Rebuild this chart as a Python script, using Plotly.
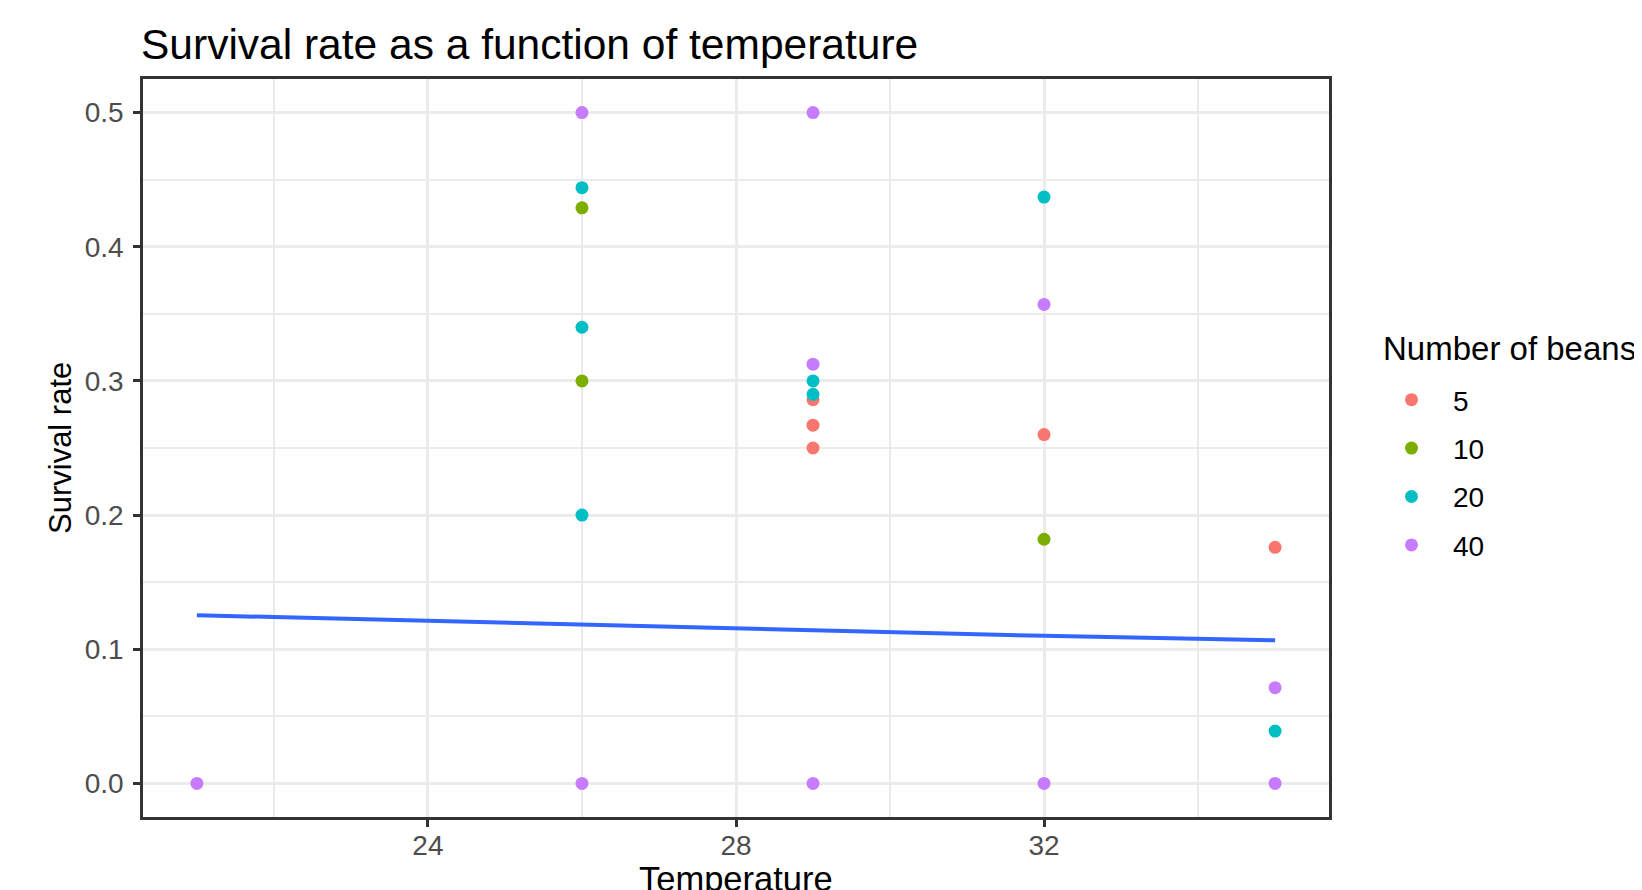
import plotly.graph_objects as go

# ---- data ----
bean_groups = ["5", "10", "20", "40"]
group_colors = ["#F8766D", "#7CAE00", "#00BFC4", "#C77CFF"]

temp_5 = [29, 29, 29, 32, 35]
surv_5 = [0.286, 0.267, 0.250, 0.260, 0.176]

temp_10 = [26, 26, 32]
surv_10 = [0.429, 0.300, 0.182]

temp_20 = [26, 26, 26, 29, 29, 32, 35]
surv_20 = [0.444, 0.340, 0.200, 0.300, 0.290, 0.437, 0.039]

temp_40 = [21, 26, 26, 29, 29, 29, 32, 32, 35, 35]
surv_40 = [0.000, 0.500, 0.000, 0.500, 0.3125, 0.000, 0.357, 0.000, 0.0714, 0.000]

fit_temp = [21, 26, 29, 32, 35]
fit_surv = [0.1254, 0.1184, 0.1143, 0.1100, 0.1067]

x_ticks = [24, 28, 32]
y_ticks = [0.0, 0.1, 0.2, 0.3, 0.4, 0.5]

FONT = "Liberation Sans, Arial, sans-serif"
W, H = 1642, 890
ML, MR, MT, MB = 135, 321, 71, 81
PW, PH = W - ML - MR, H - MT - MB

fig = go.Figure()
series = [(temp_5, surv_5), (temp_10, surv_10), (temp_20, surv_20), (temp_40, surv_40)]
for name, color, (tx, sy) in zip(bean_groups, group_colors, series):
    fig.add_trace(go.Scatter(
        x=tx, y=sy, mode="markers", name=name, legendgroup=name,
        marker=dict(color=color, size=13, line=dict(width=0)),
    ))

fig.add_trace(go.Scatter(
    x=fit_temp, y=fit_surv, mode="lines", showlegend=False,
    line=dict(color="#3366FF", width=4),
))

grid = "#EBEBEB"
border = "#333333"
fig.update_layout(
    width=W, height=H,
    margin=dict(l=ML, r=MR, t=MT, b=MB),
    paper_bgcolor="white", plot_bgcolor="white",
    font=dict(family=FONT, color="#000000"),
    title=dict(text="Survival rate as a function of temperature",
               x=(ML - 2) / W, xref="container", xanchor="left",
               y=1 - 36 / H, yref="container", yanchor="middle",
               font=dict(size=42.5, color="#000000", family=FONT)),
    xaxis=dict(
        range=[20.3, 35.7], tickvals=x_ticks, ticktext=[str(v) for v in x_ticks],
        showgrid=True, gridcolor=grid, gridwidth=2.5,
        minor=dict(tickvals=[22, 26, 30, 34], showgrid=True, gridcolor=grid, gridwidth=1.5, ticklen=0),
        showline=True, linecolor=border, linewidth=2.5, mirror=True,
        ticks="outside", ticklen=7, tickwidth=2.5, tickcolor=border,
        ticklabelstandoff=-5,
        tickfont=dict(size=28, color="#4D4D4D", family=FONT),
        zeroline=False, automargin=False,
    ),
    yaxis=dict(
        range=[-0.025, 0.525], tickvals=y_ticks, ticktext=[f"{v:.1f}" for v in y_ticks],
        showgrid=True, gridcolor=grid, gridwidth=2.5,
        minor=dict(tickvals=[0.05, 0.15, 0.25, 0.35, 0.45], showgrid=True, gridcolor=grid, gridwidth=1.5, ticklen=0),
        showline=True, linecolor=border, linewidth=2.5, mirror=True,
        ticks="outside", ticklen=7, tickwidth=2.5, tickcolor=border,
        ticklabelstandoff=4,
        tickfont=dict(size=28, color="#4D4D4D", family=FONT),
        zeroline=False, automargin=False,
    ),
    legend=dict(
        font=dict(size=28, color="#000000", family=FONT),
        xref="container", yref="container",
        x=1362 / W, y=1 - 367 / H, xanchor="left", yanchor="top",
        tracegroupgap=9, itemwidth=73, bgcolor="rgba(0,0,0,0)",
    ),
    showlegend=True,
    annotations=[
        dict(text="Temperature", xref="paper", yref="paper",
             x=0.5, y=-(871 - (H - MB)) / PH,
             xanchor="center", yanchor="middle", showarrow=False,
             font=dict(size=34.5, color="#000000", family=FONT)),
        dict(text="Survival rate", xref="paper", yref="paper",
             x=(52 - ML) / PW, y=0.5, textangle=-90,
             xanchor="center", yanchor="middle", showarrow=False,
             font=dict(size=31, color="#000000", family=FONT)),
        dict(text="Number of beans", xref="paper", yref="paper",
             x=(1373 - ML) / PW, y=((H - MB) - 340) / PH,
             xanchor="left", yanchor="middle", showarrow=False,
             font=dict(size=33, color="#000000", family=FONT)),
    ],
)

fig.write_html("out.html")
